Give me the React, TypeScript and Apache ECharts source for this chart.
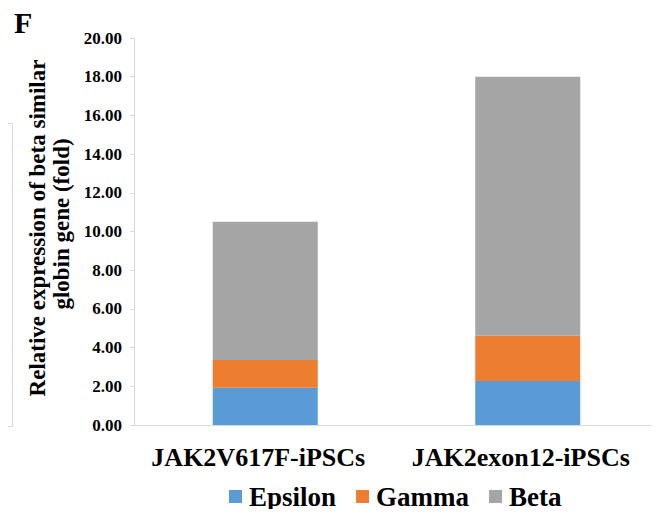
import React, { useEffect, useRef } from "react";
import * as echarts from "echarts";

const categories = ["JAK2V617F-iPSCs", "JAK2exon12-iPSCs"];
const epsilon = [1.93, 2.27];
const gamma = [1.43, 2.34];
const beta = [7.14, 13.39];
const seriesNames = ["Epsilon", "Gamma", "Beta"];
const colors = ["#5B9BD5", "#ED7D31", "#A5A5A5"];
const yTitle1 = "Relative expression of beta similar";
const yTitle2 = "globin gene (fold)";

const FONT = "Liberation Serif";

export default function App() {
  const ref = useRef<HTMLDivElement>(null);
  useEffect(() => {
    if (!ref.current) return;
    const chart = echarts.init(ref.current, undefined, { renderer: "svg" });
    const data = [epsilon, gamma, beta];
    chart.setOption({
      animation: false,
      backgroundColor: "#ffffff",
      textStyle: { fontFamily: FONT },
      grid: { left: 134, right: 0, top: 38, bottom: 92, containLabel: false },
      legend: {
        bottom: 2,
        left: 224,
        itemWidth: 13,
        itemHeight: 13,
        itemGap: 20,
        icon: "rect",
        textStyle: {
          fontFamily: FONT,
          fontWeight: "bold",
          fontSize: 27,
          color: "#000",
          padding: [0, 0, 0, 2],
        },
        data: seriesNames,
      },
      xAxis: {
        type: "category",
        data: categories,
        axisLine: { lineStyle: { color: "#d9d9d9", width: 1 } },
        axisTick: { show: false },
        axisLabel: {
          interval: 0,
          hideOverlap: false,
          fontFamily: FONT,
          fontWeight: "bold",
          fontSize: 26,
          color: "#000",
          margin: 19,
          padding: [0, 14, 0, 0],
        },
      },
      yAxis: {
        type: "value",
        min: 0,
        max: 20,
        interval: 2,
        axisLine: { show: true, lineStyle: { color: "#d9d9d9", width: 1 } },
        axisTick: { show: true, length: 4, lineStyle: { color: "#d9d9d9" } },
        splitLine: { show: false },
        axisLabel: {
          formatter: (v: number) => v.toFixed(2),
          fontFamily: FONT,
          fontWeight: "bold",
          fontSize: 17,
          color: "#000",
          margin: 12,
        },
      },
      series: seriesNames.map((name, i) => ({
        name,
        type: "bar",
        stack: "total",
        barWidth: "40%",
        data: data[i],
        itemStyle: { color: colors[i] },
      })),
      graphic: [
        {
          type: "text",
          left: 14,
          top: 7,
          style: { text: "F", fontFamily: FONT, fontWeight: "bold", fontSize: 30, fill: "#000" },
        },
        {
          type: "text",
          x: 37,
          y: 228,
          rotation: Math.PI / 2,
          style: {
            text: yTitle1,
            fontFamily: FONT,
            fontWeight: "bold",
            fontSize: 23,
            fill: "#000",
            align: "center",
            verticalAlign: "middle",
          },
        },
        {
          type: "text",
          x: 61,
          y: 224,
          rotation: Math.PI / 2,
          style: {
            text: yTitle2,
            fontFamily: FONT,
            fontWeight: "bold",
            fontSize: 23,
            fill: "#000",
            align: "center",
            verticalAlign: "middle",
          },
        },
        {
          type: "polyline",
          shape: { points: [[0, 123.5], [12.5, 123.5], [12.5, 426.5], [0, 426.5]] },
          style: { stroke: "#d9d9d9", fill: null, lineWidth: 1 },
        },
      ],
    });
    return () => chart.dispose();
  }, []);
  return <div ref={ref} style={{ width: 659, height: 517, margin: -8 }} />;
}
